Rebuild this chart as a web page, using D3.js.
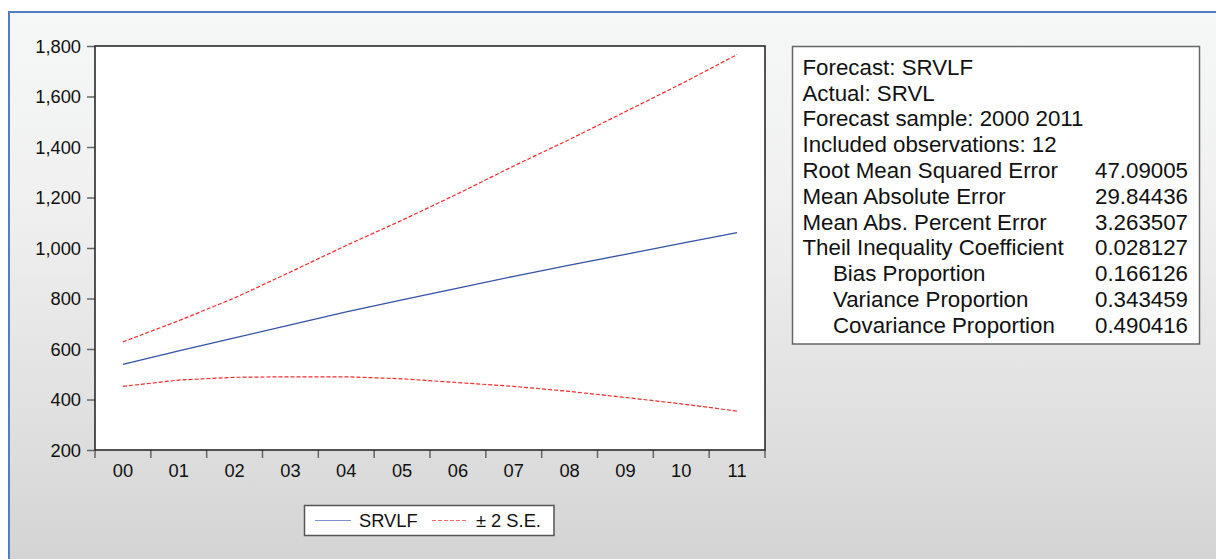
<!DOCTYPE html>
<html>
<head>
<meta charset="utf-8">
<script src="https://cdn.jsdelivr.net/npm/d3@7"></script>
<style>
  body { margin: 0; background: #fff; }
  svg { display: block; }
  text { font-family: "Liberation Sans", Arial, sans-serif; fill: #111; }
</style>
</head>
<body>
<svg id="chart" width="1216" height="559"></svg>
<script>
// Forecast horizon 2000-2011 (labelled by two-digit year)
const years = ["00", "01", "02", "03", "04", "05", "06", "07", "08", "09", "10", "11"];
// Point forecast SRVLF
const forecast = [539, 593, 644, 696, 747, 795, 841, 888, 932, 975, 1018, 1061];
// Upper and lower ±2 S.E. bands
const upper = [628, 712, 802, 905, 1010, 1110, 1215, 1325, 1430, 1540, 1650, 1766];
const lower = [452, 477, 488, 490, 490, 482, 467, 452, 432, 408, 383, 354];
const yTicks = [200, 400, 600, 800, 1000, 1200, 1400, 1600, 1800];

// Forecast evaluation statistics
const statLabels = [
  "Forecast: SRVLF",
  "Actual: SRVL",
  "Forecast sample: 2000 2011",
  "Included observations: 12",
  "Root Mean Squared Error",
  "Mean Absolute Error",
  "Mean Abs. Percent Error",
  "Theil Inequality Coefficient",
  "Bias Proportion",
  "Variance Proportion",
  "Covariance Proportion"
];
const statValues = ["", "", "", "", "47.09005", "29.84436", "3.263507", "0.028127", "0.166126", "0.343459", "0.490416"];
const statIndented = [false, false, false, false, false, false, false, false, true, true, true];

const svg = d3.select("#chart");

// Window background: white strip, blue frame, grey gradient panel
const defs = svg.append("defs");
const grad = defs.append("linearGradient").attr("id", "bg").attr("x1", 0).attr("y1", 0).attr("x2", 0).attr("y2", 1);
grad.append("stop").attr("offset", "0").attr("stop-color", "#f6f7f7");
grad.append("stop").attr("offset", "0.35").attr("stop-color", "#f0f0f0");
grad.append("stop").attr("offset", "0.7").attr("stop-color", "#e2e2e2");
grad.append("stop").attr("offset", "1").attr("stop-color", "#d4d4d4");

svg.append("rect").attr("x", 0).attr("y", 0).attr("width", 1216).attr("height", 559).attr("fill", "#fff");
svg.append("rect").attr("x", 9).attr("y", 12).attr("width", 1207).attr("height", 547).attr("fill", "url(#bg)");
svg.append("line").attr("x1", 9).attr("y1", 12).attr("x2", 1216).attr("y2", 12)
  .attr("stroke", "#4f7fc2").attr("stroke-width", 2);
svg.append("line").attr("x1", 9).attr("y1", 11).attr("x2", 9).attr("y2", 559)
  .attr("stroke", "#4f7fc2").attr("stroke-width", 2);

// Plot area
const plot = { left: 95, top: 46, right: 765, bottom: 450 };

const x = d3.scaleBand().domain(years).range([plot.left, plot.right]);
const y = d3.scaleLinear().domain([200, 1800]).range([plot.bottom, plot.top]);

svg.append("rect")
  .attr("x", plot.left).attr("y", plot.top)
  .attr("width", plot.right - plot.left).attr("height", plot.bottom - plot.top)
  .attr("fill", "#fff");

// Y axis: ticks outside to the left
const yAxis = svg.append("g").attr("transform", `translate(${plot.left},0)`)
  .call(d3.axisLeft(y).tickValues(yTicks).tickFormat(d3.format(",")).tickSize(8).tickPadding(6));
yAxis.select(".domain").remove();
yAxis.selectAll(".tick line").attr("stroke", "#666").attr("stroke-width", 1.5);
yAxis.selectAll(".tick text").attr("font-size", 18.3).attr("fill", "#111")
  .attr("font-family", "Liberation Sans, Arial, sans-serif").attr("dy", "0.34em");

// X axis: tick marks on band boundaries, labels centred in bands
const xb = svg.append("g").attr("transform", `translate(0,${plot.bottom})`);
const boundaries = years.map(d => x(d)).concat([plot.right]);
xb.selectAll("line.tk").data(boundaries).join("line")
  .attr("class", "tk")
  .attr("x1", d => d).attr("x2", d => d).attr("y1", 0).attr("y2", 8)
  .attr("stroke", "#666").attr("stroke-width", 1.5);
xb.selectAll("text").data(years).join("text")
  .attr("x", d => x(d) + x.bandwidth() / 2)
  .attr("y", 27.3)
  .attr("text-anchor", "middle")
  .attr("font-size", 18.3)
  .text(d => d);

// Series lines
const cx = (d, i) => x(years[i]) + x.bandwidth() / 2;
const line = d3.line().x(cx).y(d => y(d));

svg.append("path").datum(upper).attr("d", line)
  .attr("fill", "none").attr("stroke", "#f22a2a").attr("stroke-width", 1.2)
  .attr("stroke-dasharray", "4,2");
svg.append("path").datum(lower).attr("d", line)
  .attr("fill", "none").attr("stroke", "#f22a2a").attr("stroke-width", 1.2)
  .attr("stroke-dasharray", "4,2");
svg.append("path").datum(forecast).attr("d", line)
  .attr("fill", "none").attr("stroke", "#3553a6").attr("stroke-width", 1.3);

// Plot frame
svg.append("rect")
  .attr("x", plot.left).attr("y", plot.top)
  .attr("width", plot.right - plot.left).attr("height", plot.bottom - plot.top)
  .attr("fill", "none").attr("stroke", "#2a2a2a").attr("stroke-width", 1.6);

// Legend
const lg = svg.append("g");
lg.append("rect").attr("x", 304.5).attr("y", 505.5).attr("width", 249.5).attr("height", 30)
  .attr("fill", "#fff").attr("stroke", "#555").attr("stroke-width", 1.5);
lg.append("line").attr("x1", 315).attr("x2", 351).attr("y1", 520.5).attr("y2", 520.5)
  .attr("stroke", "#7d92c8").attr("stroke-width", 1.2);
lg.append("text").attr("x", 359).attr("y", 527.3).attr("font-size", 18.3).text("SRVLF");
lg.append("line").attr("x1", 432).attr("x2", 468).attr("y1", 520.5).attr("y2", 520.5)
  .attr("stroke", "#f56a6a").attr("stroke-width", 1.1).attr("stroke-dasharray", "4,2");
lg.append("text").attr("x", 476).attr("y", 527.3).attr("font-size", 18.3).text("± 2 S.E.");

// Statistics box
const sb = svg.append("g");
sb.append("rect").attr("x", 792.5).attr("y", 46.5).attr("width", 407).attr("height", 297.5)
  .attr("fill", "#fff").attr("stroke", "#666").attr("stroke-width", 1.5);
const rowY = i => 74.7 + i * 25.8;
sb.selectAll("text.lab").data(statLabels).join("text")
  .attr("class", "lab")
  .attr("x", (d, i) => statIndented[i] ? 833 : 802.5)
  .attr("y", (d, i) => rowY(i))
  .attr("font-size", 22.3)
  .text(d => d);
sb.selectAll("text.val").data(statValues).join("text")
  .attr("class", "val")
  .attr("x", 1188)
  .attr("y", (d, i) => rowY(i))
  .attr("text-anchor", "end")
  .attr("font-size", 22.3)
  .text(d => d);
</script>
</body>
</html>
